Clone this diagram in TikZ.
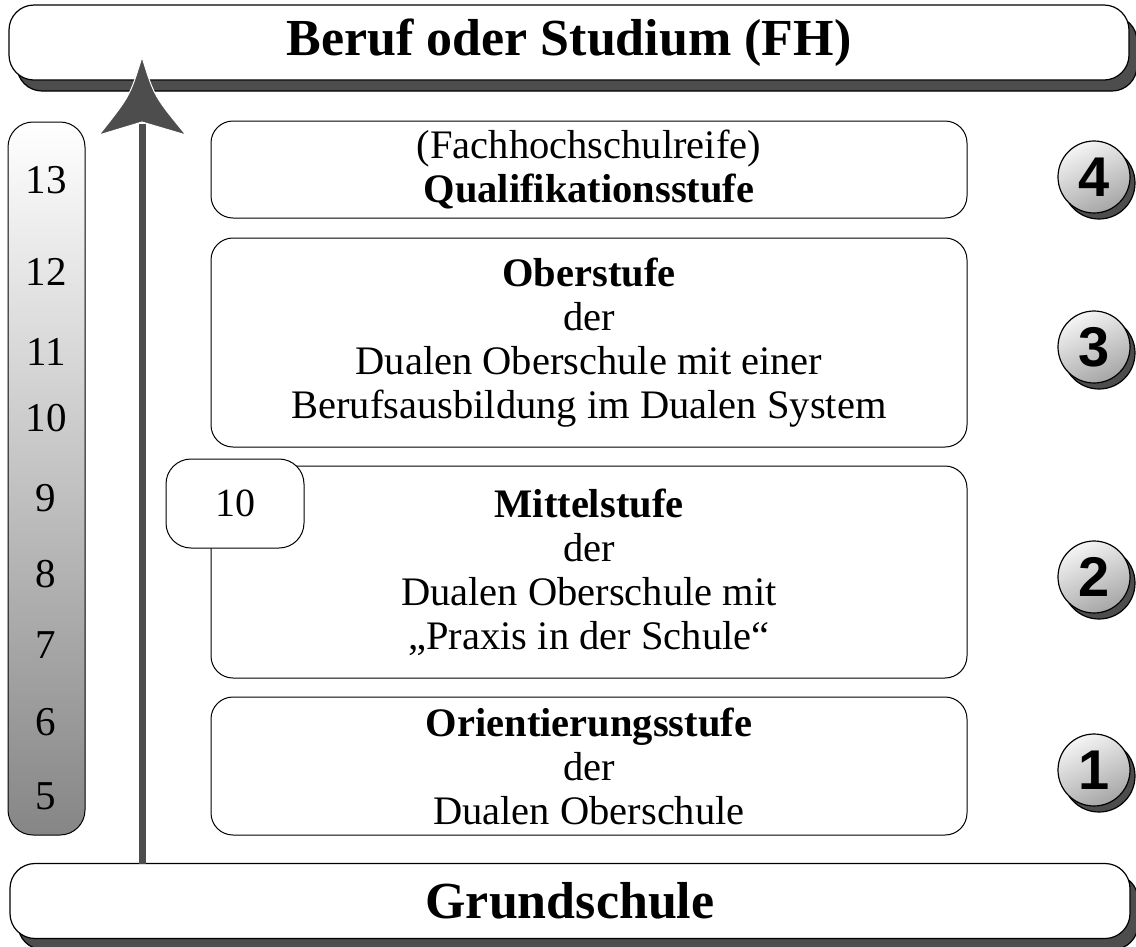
\documentclass[tikz,border=0pt]{standalone}
\usepackage{fontspec}
\setmainfont{Liberation Serif}
\newfontfamily\numfont{Liberation Sans}
\usetikzlibrary{shadows}
\definecolor{shad}{HTML}{4D4D4D}
\begin{document}
\begin{tikzpicture}[x=1pt,y=-1pt,
  banner/.style={draw=black, line width=1.2pt, fill=white, rounded corners=25pt,
    minimum width=1120pt, minimum height=75pt, inner sep=0pt,
    font=\fontsize{52}{56}\selectfont\bfseries,
    drop shadow={shadow xshift=8pt, shadow yshift=-11pt, opacity=1, fill=shad, draw=black}},
  stagebox/.style={draw=black, line width=1pt, fill=white, rounded corners=22pt,
    minimum width=756pt, inner sep=0pt, align=center,
    font=\fontsize{40.5}{44}\selectfont},
  smallbox/.style={draw=black, line width=1pt, fill=white, rounded corners=25pt,
    minimum width=138pt, minimum height=89pt, inner sep=0pt,
    font=\fontsize{40}{44}\selectfont},
  yearbar/.style={draw=black, line width=1pt, rounded corners=25pt,
    top color=white, bottom color=gray!95, minimum width=77pt, minimum height=713pt, inner sep=0pt},
  yearnum/.style={font=\fontsize{41}{44}\selectfont, inner sep=0pt},
  stagenum/.style={circle, draw=black, line width=1.2pt, minimum size=72pt, inner sep=0pt,
    top color=gray!8, bottom color=gray!70, shading angle=25,
    font=\numfont\fontsize{56}{60}\selectfont\bfseries,
    drop shadow={shadow xshift=5pt, shadow yshift=-6pt, opacity=1, fill=shad, draw=black}},
]
\useasboundingbox (0,0) rectangle (1136,946);

% banners
\node[banner] (top) at (569,42.5) {\raisebox{-4pt}{Beruf oder Studium (FH)}};
\node[banner] (bottom) at (570,901) {\raisebox{-2pt}{Grundschule}};

% year bar
\node[yearbar] (bar) at (46.5,478.5) {};
\node[yearnum] (y13) at (46,180) {13};
\node[yearnum] (y12) at (46,272) {12};
\node[yearnum] (y11) at (46,352) {11};
\node[yearnum] (y10) at (46,418) {10};
\node[yearnum] (y9) at (46,498) {9};
\node[yearnum] (y8) at (46,574) {8};
\node[yearnum] (y7) at (46,645) {7};
\node[yearnum] (y6) at (46,722) {6};
\node[yearnum] (y5) at (46,796) {5};

% stage boxes
\node[stagebox, minimum height=97pt] (s4) at (589,169.5)
  {(Fachhochschulreife)\\\textbf{Qualifikationsstufe}};
\node[stagebox, minimum height=209pt] (s3) at (589,342.5)
  {\textbf{Oberstufe}\\der\\Dualen Oberschule mit einer\\Berufsausbildung im Dualen System};
\node[stagebox, minimum height=212pt] (s2) at (589,572)
  {\textbf{Mittelstufe}\\der\\Dualen Oberschule mit\\„Praxis in der Schule“};
\node[stagebox, minimum height=138pt] (s1) at (589,766)
  {\textbf{Orientierungsstufe}\\der\\Dualen Oberschule};
\node[smallbox] (ten) at (235,503.5) {10};

% stage numbers
\node[stagenum] (n4) at (1094,177) {4};
\node[stagenum] (n3) at (1094,347) {3};
\node[stagenum] (n2) at (1094,577) {2};
\node[stagenum] (n1) at (1094,770) {1};

% arrow
\coordinate (abase) at (142,864);
\coordinate (aneck) at (142,124);
\coordinate (atip) at (142,57);
\draw[shad, line width=7pt] (abase) -- (aneck);
\filldraw[fill=shad, draw=white, line width=1pt]
  (atip) .. controls (130,96) .. (99,135)
  -- (142,122) -- (186,135)
  .. controls (154,96) .. (atip) -- cycle;
\end{tikzpicture}
\end{document}
